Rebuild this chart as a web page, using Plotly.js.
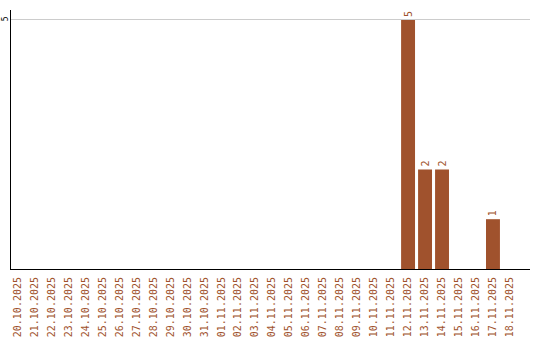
<!DOCTYPE html>
<html><head><meta charset="utf-8">
<script src="https://cdn.plot.ly/plotly-3.0.1.min.js"></script>
<style>html,body{margin:0;padding:0;background:#fff}</style>
</head><body><div id="chart" style="width:540px;height:340px"></div>
<script>
const dates = ["20.10.2025","21.10.2025","22.10.2025","23.10.2025","24.10.2025","25.10.2025","26.10.2025","27.10.2025","28.10.2025","29.10.2025","30.10.2025","31.10.2025","01.11.2025","02.11.2025","03.11.2025","04.11.2025","05.11.2025","06.11.2025","07.11.2025","08.11.2025","09.11.2025","10.11.2025","11.11.2025","12.11.2025","13.11.2025","14.11.2025","15.11.2025","16.11.2025","17.11.2025","18.11.2025"];
const counts = [0,0,0,0,0,0,0,0,0,0,0,0,0,0,0,0,0,0,0,0,0,0,0,5,2,2,0,0,1,0];
const labels = counts.map(v => v > 0 ? String(v) : "");
const yTicks = [5];

const trace = {
  type: 'bar', x: dates, y: counts, text: labels,
  textposition: 'outside', textangle: -90, cliponaxis: false,
  textfont: {family: 'DejaVu Sans Mono', size: 10, color: '#A0522D'},
  marker: {color: '#A0522D'}, hoverinfo: 'none'
};
const layout = {
  width: 540, height: 340,
  margin: {l: 11, r: 10, t: 10, b: 71},
  paper_bgcolor: '#fff', plot_bgcolor: '#fff',
  showlegend: false, bargap: 0.18,
  xaxis: {type: 'category', range: [-0.38, 30.18], showgrid: false, showline: true, linecolor: '#000', linewidth: 1,
    tickangle: -90, tickfont: {family: 'DejaVu Sans Mono', size: 10, color: '#A0522D'}, ticks: '', ticklen: 0,
    ticklabelstandoff: 3, automargin: false},
  yaxis: {range: [0, 5.2], tickvals: yTicks, ticktext: yTicks.map(String), showgrid: true, gridcolor: '#cccccc', zeroline: false,
    showline: true, linecolor: '#000', linewidth: 1, tickangle: -90, ticks: '', ticklabelstandoff: -1,
    tickfont: {family: 'DejaVu Sans Mono', size: 8, color: '#000'}, automargin: false}
};
Plotly.newPlot('chart', [trace], layout, {staticPlot: true, displayModeBar: false});
</script></body></html>
